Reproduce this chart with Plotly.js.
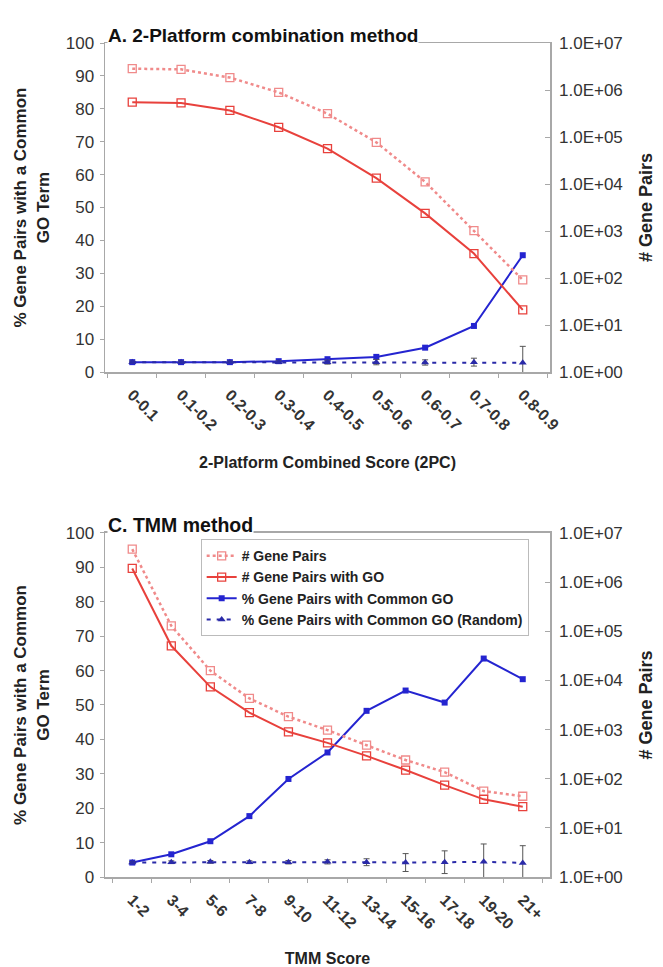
<!DOCTYPE html>
<html>
<head>
<meta charset="utf-8">
<script src="https://cdn.plot.ly/plotly-3.0.1.min.js"></script>
<style>html,body{margin:0;padding:0;background:#fff}#chart{width:663px;height:967px}</style>
</head>
<body>
<div id="chart"></div>
<script>
// ---------- Data: A. 2-Platform combination method ----------
const catsA = ["0-0.1","0.1-0.2","0.2-0.3","0.3-0.4","0.4-0.5","0.5-0.6","0.6-0.7","0.7-0.8","0.8-0.9"];
const pairsA   = [2840000, 2750000, 1840000, 890000, 313000, 77000, 11100, 1020, 91];
const pairsGOA = [550000, 530000, 367000, 161000, 56600, 13300, 2370, 331, 21];
const pctA     = [3.0, 3.0, 3.0, 3.3, 3.9, 4.6, 7.4, 14.0, 35.5];
const randA    = [3.0, 3.0, 3.0, 3.0, 3.0, 3.0, 2.9, 3.0, 2.8];
const randErrA = [0.3, 0.3, 0.3, 0.4, 0.6, 0.8, 0.8, 1.2, 5.0];

// ---------- Data: C. TMM method ----------
const catsC = ["1-2","3-4","5-6","7-8","9-10","11-12","13-14","15-16","17-18","19-20","21+"];
const pairsC   = [4690000, 129000, 15800, 4300, 1830, 975, 480, 240, 136, 56, 44];
const pairsGOC = [1900000, 50600, 7400, 2220, 900, 537, 291, 150, 74, 38, 27];
const pctC     = [4.2, 6.6, 10.4, 17.7, 28.5, 36.2, 48.3, 54.2, 50.7, 63.5, 57.5];
const randC    = [4.2, 4.3, 4.4, 4.3, 4.3, 4.4, 4.3, 4.2, 4.3, 4.4, 4.1];
const randErrC = [0.3, 0.4, 0.4, 0.4, 0.5, 0.6, 1.0, 2.6, 3.3, 5.2, 5.0];

// ---------- Axis labels ----------
const logTickVals = [1, 10, 100, 1000, 10000, 100000, 1000000, 10000000];
const logTickText = ["1.0E+00","1.0E+01","1.0E+02","1.0E+03","1.0E+04","1.0E+05","1.0E+06","1.0E+07"];
const names = ["# Gene Pairs", "# Gene Pairs with GO", "% Gene Pairs with Common GO", "% Gene Pairs with Common GO (Random)"];

const FONT = "Liberation Sans, Arial, sans-serif";
const PINK = "#f08a8a", RED = "#e8413c", BLUE = "#2424d0", DBLUE = "#2a2aa8", FRAME = "#a8a8a8";

function series(x, y, xa, ya, idx, showleg) {
  const styles = [
    {line:{color:PINK, width:2.5, dash:"dot"}, marker:{symbol:"square-open", size:8, color:PINK, line:{width:1.3}}},
    {line:{color:RED, width:2}, marker:{symbol:"square-open", size:8, color:RED, line:{width:1.3}}},
    {line:{color:BLUE, width:2}, marker:{symbol:"square", size:6, color:BLUE}},
    {line:{color:DBLUE, width:2, dash:"4px,6px"}, marker:{symbol:"triangle-up", size:7, color:DBLUE}}
  ];
  return Object.assign({type:"scatter", mode:"lines+markers", x:x, y:y, xaxis:xa, yaxis:ya,
    name:names[idx], showlegend:showleg, legendrank:idx+1}, styles[idx]);
}

const errStyle = (arr) => ({type:"data", array:arr, visible:true, color:"#555", thickness:1, width:3});

const traces = [
  series(catsA, pairsA, "x", "y2", 0, false),
  series(catsA, pairsGOA, "x", "y2", 1, false),
  series(catsA, pctA, "x", "y", 2, false),
  Object.assign(series(catsA, randA, "x", "y", 3, false), {error_y: errStyle(randErrA)}),
  series(catsC, pairsC, "x2", "y4", 0, true),
  series(catsC, pairsGOC, "x2", "y4", 1, true),
  series(catsC, pctC, "x2", "y3", 2, true),
  Object.assign(series(catsC, randC, "x2", "y3", 3, true), {error_y: errStyle(randErrC)})
];

const tickFont = {family:FONT, size:17, color:"#333"};
const titleFont = {family:FONT, size:17, color:"#222", weight:"bold"};

function xAxis(anchor, title, standoff) {
  return {anchor:anchor, type:"category", domain:[0,1], tickangle:45,
    tickfont:{family:FONT, size:16, color:"#333", weight:"bold"}, ticklabelstandoff:6,
    showline:true, linecolor:FRAME, linewidth:1.5, mirror:true,
    ticks:"outside", tickson:"boundaries", ticklen:4, tickcolor:FRAME,
    showgrid:false, zeroline:false,
    title:{text:title, font:{family:FONT, size:16, color:"#222", weight:"bold"}, standoff:standoff}};
}
function yLeft(anchor, domain) {
  return {anchor:anchor, domain:domain, range:[0,100], dtick:10, tickfont:tickFont, ticklabelstandoff:2,
    showline:true, linecolor:FRAME, linewidth:1.5, mirror:true,
    ticks:"outside", ticklen:4, tickcolor:FRAME, showgrid:false, zeroline:false,
    title:{text:"% Gene Pairs with a Common<br>GO Term", font:titleFont, standoff:12}};
}
function yRight(over, anchor) {
  return {overlaying:over, anchor:anchor, side:"right", type:"log", range:[0,7],
    tickvals:logTickVals, ticktext:logTickText, tickfont:tickFont, ticklabelstandoff:8,
    showline:false, ticks:"inside", ticklen:5, tickcolor:FRAME,
    showgrid:false, zeroline:false,
    title:{text:"# Gene Pairs", font:{family:FONT, size:18, color:"#222", weight:"bold"}, standoff:17}};
}

const layout = {
  width:663, height:967, paper_bgcolor:"#fff", plot_bgcolor:"#fff",
  margin:{l:105, r:113, t:43, b:90},
  font:{family:FONT},
  xaxis: xAxis("y", "2-Platform Combined Score (2PC)", 24),
  yaxis: yLeft("x", [0.6055, 1]),
  yaxis2: yRight("y", "x"),
  xaxis2: xAxis("y3", "TMM Score", 21),
  yaxis3: yLeft("x2", [0, 0.4125]),
  yaxis4: yRight("y3", "x2"),
  legend:{x:0.215, y:0.405, xanchor:"left", yanchor:"top", bgcolor:"rgba(255,255,255,0.9)",
    bordercolor:"#bbb", borderwidth:1, font:{family:FONT, size:14, color:"#222", weight:"bold"},
    traceorder:"normal", itemwidth:30, tracegroupgap:0},
  annotations:[
    {text:"A. 2-Platform combination method", xref:"paper", yref:"paper", x:0.005, y:1.0, xanchor:"left", yanchor:"bottom", yshift:-4,
     bgcolor:"#fff", borderpad:0, showarrow:false, font:{family:FONT, size:19, color:"#111", weight:"bold"}},
    {text:"C. TMM method", xref:"paper", yref:"paper", x:0.005, y:0.4125, xanchor:"left", yanchor:"bottom", yshift:-4,
     bgcolor:"#fff", borderpad:0, showarrow:false, font:{family:FONT, size:19.5, color:"#111", weight:"bold"}}
  ]
};

Plotly.newPlot("chart", traces, layout, {displayModeBar:false, staticPlot:true});
</script>
</body>
</html>
